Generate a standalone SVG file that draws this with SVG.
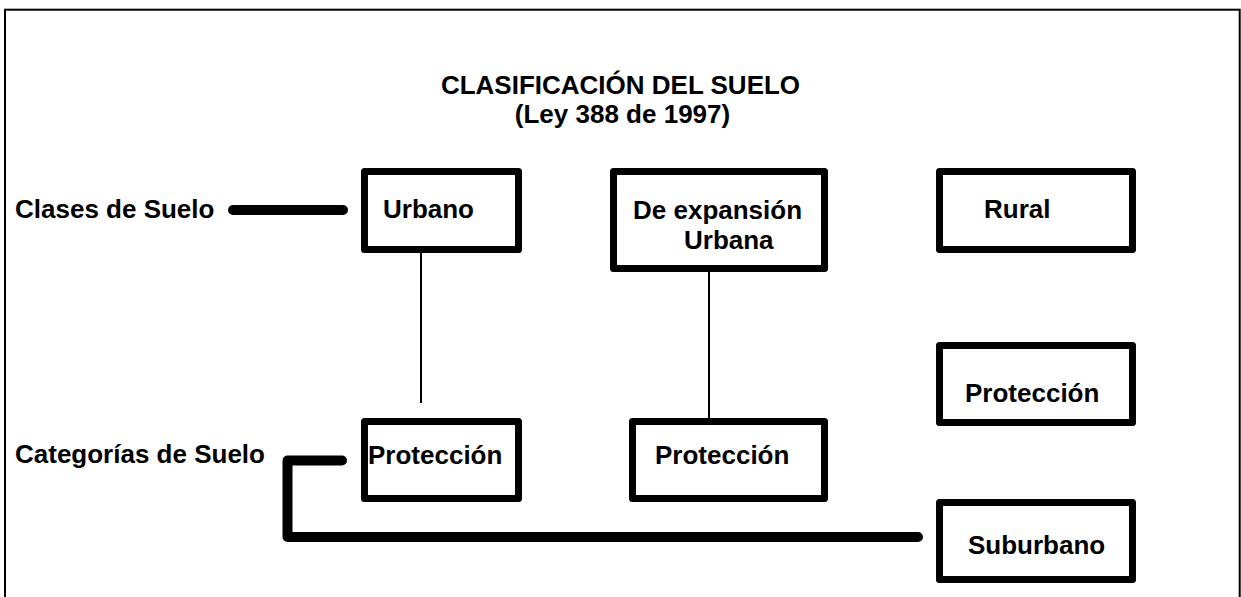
<svg xmlns="http://www.w3.org/2000/svg" width="1241" height="597" viewBox="0 0 1241 597">
<style>
text{font-family:"Liberation Sans",Arial,sans-serif;font-weight:bold;font-size:26px;fill:#000}
.box{fill:#fff;stroke:#000;stroke-width:7;stroke-linejoin:round}
.thick{fill:none;stroke:#000;stroke-width:10;stroke-linecap:round;stroke-linejoin:round}
.thin{fill:none;stroke:#000;stroke-width:2}
</style>
<rect width="1241" height="597" fill="#fff"/>
<rect x="5" y="9.7" width="1234.7" height="600" fill="none" stroke="#000" stroke-width="2"/>
<g id="title">
<text x="620.5" y="94" text-anchor="middle">CLASIFICACIÓN DEL SUELO</text>
<text x="622.5" y="123" text-anchor="middle">(Ley 388 de 1997)</text>
</g>
<g id="label-clases"><text x="15" y="218">Clases de Suelo</text></g>
<g id="label-categorias"><text x="15" y="463">Categorías de Suelo</text></g>
<g id="connectors">
<line class="thick" x1="233" y1="210" x2="343" y2="210"/>
<path class="thick" d="M342 460.5 L287.5 460.5 L287.5 537 L918 537"/>
<line class="thin" x1="421" y1="253" x2="421" y2="403"/>
<line class="thin" x1="709" y1="272" x2="709" y2="418"/>
</g>
<g id="urbano"><rect class="box" x="364.5" y="171.5" width="154" height="78"/><text x="383" y="218">Urbano</text></g>
<g id="expansion"><rect class="box" x="613.5" y="171.5" width="211" height="97"/><text x="633" y="219">De expansión</text><text x="684" y="249">Urbana</text></g>
<g id="rural"><rect class="box" x="939.5" y="171.5" width="193" height="78"/><text x="984" y="218">Rural</text></g>
<g id="proteccion-urbano"><rect class="box" x="364.5" y="421.5" width="154" height="77"/><text x="368" y="464">Protección</text></g>
<g id="proteccion-expansion"><rect class="box" x="632.5" y="421.5" width="192" height="77"/><text x="655" y="464">Protección</text></g>
<g id="proteccion-rural"><rect class="box" x="939.5" y="345.5" width="193" height="77"/><text x="965" y="402">Protección</text></g>
<g id="suburbano"><rect class="box" x="939.5" y="502.5" width="193" height="77"/><text x="968" y="554">Suburbano</text></g>
</svg>
